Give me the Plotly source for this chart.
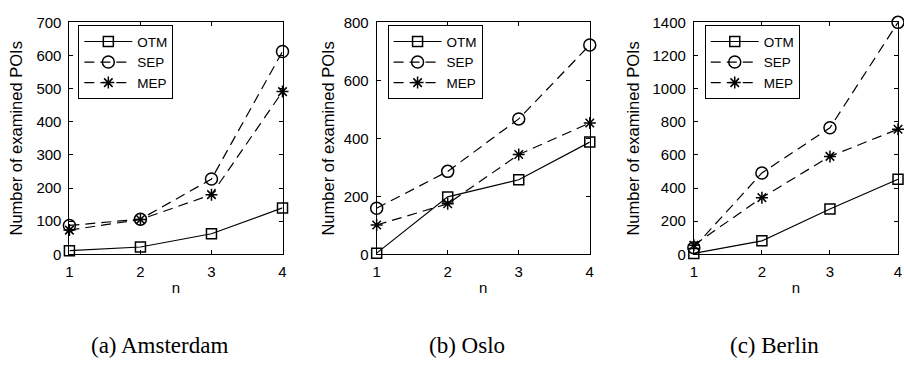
import plotly.graph_objects as go

n_values = [1, 2, 3, 4]
series_names = ["OTM", "SEP", "MEP"]

ams_otm = [11, 22, 62, 140]
ams_sep = [87, 106, 227, 612]
ams_mep = [73, 105, 180, 491]

oslo_otm = [4, 198, 257, 387]
oslo_sep = [159, 286, 467, 722]
oslo_mep = [101, 174, 344, 453]

ber_otm = [5, 81, 273, 453]
ber_sep = [40, 491, 764, 1400]
ber_mep = [55, 342, 591, 755]

captions = ["(a) Amsterdam", "(b) Oslo", "(c) Berlin"]
y_max = [700, 800, 1400]
y_ticks = [list(range(0, 701, 100)), list(range(0, 801, 200)), list(range(0, 1401, 200))]

W, H = 904, 373
px_left = [66, 376, 696]
px_right = [281, 591, 902]
top, bottom = 14, 257
caption_cx = [157, 467, 777]
title_standoff = [9, 4, 8]

panels = [
    (ams_otm, ams_sep, ams_mep),
    (oslo_otm, oslo_sep, oslo_mep),
    (ber_otm, ber_sep, ber_mep),
]

styles = {
    "OTM": dict(dash="solid", symbol="square-open", size=10),
    "SEP": dict(dash="10px,6px", symbol="circle-open", size=12),
    "MEP": dict(dash="10px,6px", symbol="asterisk-open", size=10),
}

fig = go.Figure()
font_family = "Liberation Sans, Arial, sans-serif"

for i, data in enumerate(panels):
    xa = "x" if i == 0 else f"x{i+1}"
    ya = "y" if i == 0 else f"y{i+1}"
    leg = "legend" if i == 0 else f"legend{i+1}"
    for name, vals in zip(series_names, data):
        st = styles[name]
        fig.add_trace(go.Scatter(
            x=n_values, y=vals, name=name, mode="lines+markers",
            xaxis=xa, yaxis=ya, legend=leg, cliponaxis=False,
            line=dict(color="black", width=1.2, dash=st["dash"]),
            marker=dict(symbol=st["symbol"], size=st["size"], color="black",
                        line=dict(color="black", width=1.5)),
        ))

layout = dict(
    width=W, height=H, margin=dict(l=0, r=0, t=0, b=0),
    plot_bgcolor="white", paper_bgcolor="white",
    font=dict(family=font_family, size=15, color="black"),
    showlegend=True,
)

ax_common = dict(showline=True, linecolor="black", linewidth=1, mirror="ticks",
                 ticks="inside", ticklen=4, tickcolor="black", showgrid=False,
                 zeroline=False, tickfont=dict(size=15, family=font_family))

legend_px = [(75, 17), (387, 17), (707, 17)]

annotations = []
for i in range(3):
    sx = "" if i == 0 else str(i + 1)
    dom_x = [px_left[i] / W, px_right[i] / W]
    dom_y = [1 - bottom / H, 1 - top / H]
    layout[f"xaxis{sx}"] = dict(ax_common, domain=dom_x, range=[1, 4],
                                tickvals=n_values, anchor=f"y{sx}", ticklabelstandoff=4,
                                title=dict(text="n", font=dict(size=15), standoff=3))
    layout[f"yaxis{sx}"] = dict(ax_common, domain=dom_y, range=[0, y_max[i]],
                                tickvals=y_ticks[i], anchor=f"x{sx}", ticklabelstandoff=4,
                                title=dict(text="Number of examined POIs", font=dict(size=16.5),
                                           standoff=title_standoff[i]))
    lx, ly = legend_px[i]
    layout[f"legend{sx}"] = dict(x=lx / W, y=1 - ly / H, xanchor="left", yanchor="top",
                                 bordercolor="black", borderwidth=1, bgcolor="white",
                                 font=dict(size=13.5, family=font_family),
                                 itemwidth=48, tracegroupgap=0)
    annotations.append(dict(text=captions[i], xref="paper", yref="paper",
                            x=caption_cx[i] / W, y=1 - 353 / H,
                            showarrow=False, xanchor="center", yanchor="middle",
                            font=dict(family="Liberation Serif, Times New Roman, serif", size=23)))

layout["annotations"] = annotations
fig.update_layout(**layout)
fig.write_html("out.html")
